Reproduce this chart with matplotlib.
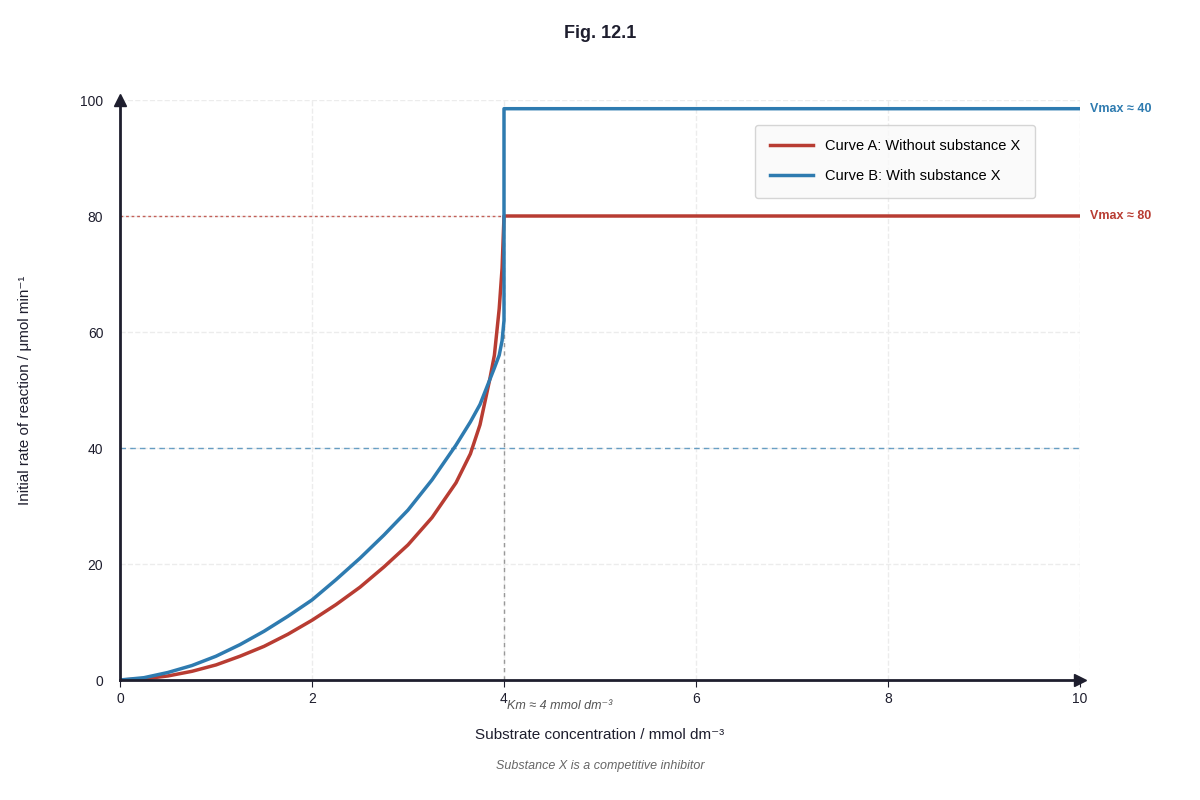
import matplotlib
matplotlib.use("Agg")
import matplotlib.pyplot as plt

red_x = [0, 0.25, 0.5, 0.75, 1, 1.25, 1.5, 1.75, 2, 2.25, 2.5, 2.75, 3, 3.25, 3.5, 3.65, 3.75, 3.85, 3.9, 3.95, 3.98, 4, 4, 10]
red_y = [0, 0.2, 0.7, 1.5, 2.6, 4.1, 5.8, 7.9, 10.3, 13.0, 16, 19.5, 23.3, 28, 34, 39, 44, 51.7, 56, 64, 71, 80, 80, 80]
blue_x = [0, 0.25, 0.5, 0.75, 1, 1.25, 1.5, 1.75, 2, 2.25, 2.5, 2.75, 3, 3.25, 3.5, 3.65, 3.75, 3.85, 3.9, 3.95, 3.98, 4, 4, 10]
blue_y = [0, 0.4, 1.3, 2.5, 4.1, 6.1, 8.4, 11.0, 13.8, 17.3, 21, 25, 29.3, 34.5, 40.5, 44.5, 47.5, 51.7, 53.8, 56, 58.5, 62, 98.5, 98.5]
xticks = [0, 2, 4, 6, 8, 10]
yticks = [0, 20, 40, 60, 80, 100]

RED = "#b83c32"; BLUE = "#2e7bb0"; DARK = "#1e1e2e"
plt.rcParams['font.family'] = ['Liberation Sans', 'DejaVu Sans']
fig = plt.figure(figsize=(12, 8), dpi=100)
ax = fig.add_axes([0.1, 0.15, 0.8, 0.725])
ax.set_xlim(0, 10); ax.set_ylim(0, 100)
for s in ['top', 'right']:
    ax.spines[s].set_visible(False)
for s in ['left', 'bottom']:
    ax.spines[s].set_color(DARK); ax.spines[s].set_linewidth(2)
ax.set_xticks(xticks); ax.set_yticks(yticks)
ax.tick_params(colors=DARK, labelsize=10, length=5)
ax.tick_params(axis='y', length=0, pad=12)
ax.grid(True, ls='--', color='#ececec', lw=1)
ax.plot(1, 0, '>', color=DARK, ms=9, transform=ax.transAxes, clip_on=False)
ax.plot(0, 1, '^', color=DARK, ms=9, transform=ax.transAxes, clip_on=False)

ax.plot([0, 4], [80, 80], ls=(0, (2, 2)), color=RED, lw=1, alpha=0.8)
ax.plot([0, 10], [40, 40], ls=(0, (4, 3)), color=BLUE, lw=1, alpha=0.7)
ax.plot([4, 4], [0, 80], ls=(0, (3, 3)), color='#999999', lw=1)

ax.plot(red_x, red_y, color=RED, lw=2.5, label='Curve A: Without substance X')
ax.plot(blue_x, blue_y, color=BLUE, lw=2.5, label='Curve B: With substance X')

ax.text(10.1, 98.5, 'Vmax ≈ 40', color=BLUE, fontsize=9, fontweight='bold', va='center')
ax.text(10.1, 80, 'Vmax ≈ 80', color=RED, fontsize=9, fontweight='bold', va='center')
ax.text(4.58, -4.5, 'Km ≈ 4 mmol dm⁻³', fontsize=9, style='italic', color='#555555', ha='center', va='center')

leg = ax.legend(loc='upper left', bbox_to_anchor=(0.654, 0.97), fontsize=10.5, frameon=True,
                fancybox=True, borderpad=1.0, labelspacing=1.1, handlelength=3)
leg.get_frame().set_facecolor('#f9f9f9'); leg.get_frame().set_edgecolor('#cccccc')

fig.text(0.5, 0.081, 'Substrate concentration / mmol dm⁻³', ha='center', va='center', fontsize=11, color=DARK)
fig.text(0.021, 0.512, 'Initial rate of reaction / μmol min⁻¹', ha='center', va='center', fontsize=11,
         color=DARK, rotation=90)
fig.text(0.5, 0.958, 'Fig. 12.1', ha='center', va='center', fontsize=13, fontweight='bold', color=DARK)
fig.text(0.5, 0.042, 'Substance X is a competitive inhibitor', ha='center', va='center', fontsize=9,
         style='italic', color='#666666')
fig.savefig('out.png', dpi=100, facecolor='white')
